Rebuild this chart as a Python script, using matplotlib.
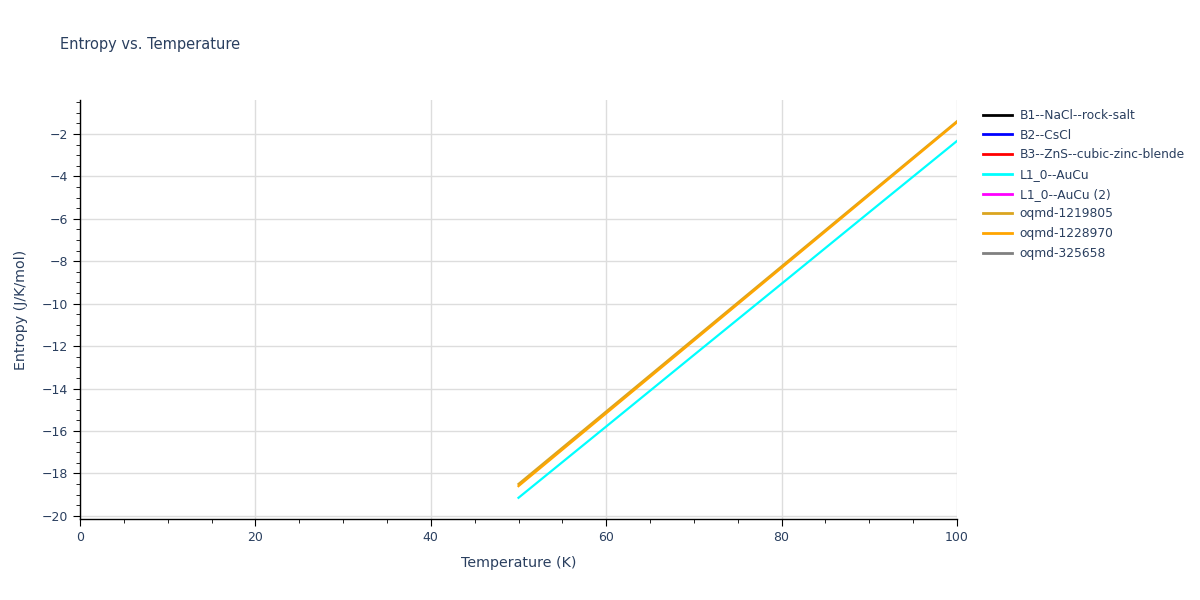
import matplotlib
matplotlib.use('Agg')
import matplotlib.pyplot as plt
from matplotlib.ticker import MultipleLocator
from matplotlib.lines import Line2D

# data
temps = [50, 60, 70, 80, 90, 100]
series_names = ['B1--NaCl--rock-salt', 'B2--CsCl', 'B3--ZnS--cubic-zinc-blende',
                'L1_0--AuCu', 'L1_0--AuCu (2)', 'oqmd-1219805', 'oqmd-1228970',
                'oqmd-325658']
series_colors = ['black', 'blue', 'red', 'cyan', 'magenta', 'goldenrod',
                 'orange', 'gray']
entropy_l10 = [-19.15, -15.79, -12.42, -9.06, -5.69, -2.33]
entropy_1219805 = [-18.50, -15.08, -11.66, -8.24, -4.82, -1.40]
entropy_1228970 = [-18.60, -15.17, -11.74, -8.31, -4.88, -1.45]
series_values = {
    'L1_0--AuCu': entropy_l10,
    'oqmd-1219805': entropy_1219805,
    'oqmd-1228970': entropy_1228970,
}

text_col = '#2a3f5f'
fig = plt.figure(figsize=(12, 6), dpi=100)
ax = fig.add_axes([80 / 1200, 81 / 600, 877 / 1200, 419 / 600])

for name, col in zip(series_names, series_colors):
    if name in series_values:
        ax.plot(temps, series_values[name], color=col, lw=1.6, zorder=3)

ax.set_xlim(0, 100)
ax.set_ylim(-20.15, -0.4)
ax.xaxis.set_major_locator(MultipleLocator(20))
ax.xaxis.set_minor_locator(MultipleLocator(5))
ax.yaxis.set_major_locator(MultipleLocator(2))
ax.yaxis.set_minor_locator(MultipleLocator(0.5))
ax.grid(True, which='major', color='#dddddd', lw=1)
ax.set_axisbelow(True)
for s in ['top', 'right']:
    ax.spines[s].set_visible(False)
for s in ['left', 'bottom']:
    ax.spines[s].set_color('black')
    ax.spines[s].set_linewidth(1)
ax.tick_params(which='major', length=5, color='black', labelcolor=text_col,
               labelsize=9)
ax.tick_params(which='minor', length=3, color='black')
ax.yaxis.set_major_formatter(plt.FuncFormatter(lambda v, p: f'{v:.0f}'.replace('-', '\u2212')))

ax.set_xlabel('Temperature (K)', color=text_col, fontsize=10.3, labelpad=9)
ax.set_ylabel('Entropy (J/K/mol)', color=text_col, fontsize=10.3, labelpad=10)
fig.text(60 / 1200, 1 - 45 / 600, 'Entropy vs. Temperature', color=text_col,
         fontsize=10.5, va='center')

handles = [Line2D([0], [0], color=c, lw=2) for c in series_colors]
leg = fig.legend(handles, series_names, loc='upper left',
                 bbox_to_anchor=(978 / 1200, 1 - 104 / 600), frameon=False,
                 fontsize=8.8, handlelength=2.4, labelspacing=0.55,
                 handletextpad=0.6, borderaxespad=0)
for t in leg.get_texts():
    t.set_color(text_col)

fig.savefig('out.png', dpi=100)
plt.close()
